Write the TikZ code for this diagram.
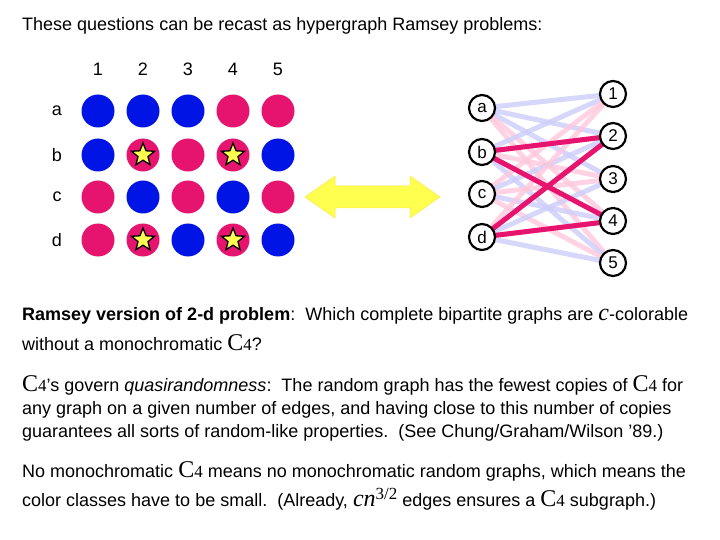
\documentclass[tikz,border=0pt]{standalone}
\usepackage{fontspec}
\setmainfont{Liberation Sans}
\newfontfamily\serifC{Liberation Serif}
\usetikzlibrary{shapes.geometric}
\definecolor{pk}{RGB}{230,20,110}
\definecolor{bl}{RGB}{0,20,230}
\definecolor{lpk}{RGB}{255,200,220}
\definecolor{lbl}{RGB}{205,205,250}
\definecolor{yel}{RGB}{255,255,80}
\newcommand{\CF}{{\serifC\fontsize{24}{24}\selectfont C}{\serifC\fontsize{17}{17}\selectfont 4}}
\begin{document}
\begin{tikzpicture}[x=1pt,y=-1pt,
  txt/.style={anchor=base west,inner sep=0,font=\fontsize{18}{21}\selectfont},
  dot/.style={circle,minimum size=33pt,inner sep=0},
  vtx/.style={circle,draw,line width=2.2pt,fill=white,minimum size=26pt,inner sep=0,font=\fontsize{17}{17}\selectfont},
  starn/.style={star,star points=5,star point ratio=2.3,fill=yel,draw,line width=1.3pt,minimum size=24pt,inner sep=0},
  lb/.style={lbl,line width=5pt},lp/.style={lpk,line width=5pt},dp/.style={pk,line width=5pt}]
\useasboundingbox (0,0) rectangle (720,540);
\node[txt] (t0) at (22,31) {These questions can be recast as hypergraph Ramsey problems:};
% grid
\foreach \c/\x in {1/98,2/143,3/188,4/233,5/278} \node[font=\fontsize{18}{18}\selectfont] (h\c) at (\x,69) {\c};
\foreach \r/\y in {a/111,b/155,c/197,d/240} \node[font=\fontsize{18}{18}\selectfont] (r\r) at (57,\y) {\r};
\foreach \r/\y/\cols in {a/111/{bl,bl,bl,pk,pk},b/155/{bl,pk,pk,pk,bl},c/197/{pk,bl,pk,bl,pk},d/240/{pk,pk,bl,pk,bl}}{
  \foreach \col [count=\i] in \cols {
    \node[dot,fill=\col] (g\r\i) at (53+45*\i,\y) {};
  }
}
\foreach \n in {gb2,gb4,gd2,gd4} \node[starn] at (\n) {};
% arrow
\draw[fill=yel,draw=yel!80!orange,line width=0.5pt] (305,197) -- (335,176) -- (335,186) -- (410,186) -- (410,176) -- (440,197) -- (410,218) -- (410,208) -- (335,208) -- (335,218) -- cycle;
% bipartite
\coordinate (La) at (482,108); \coordinate (Lb) at (482,152); \coordinate (Lc) at (482,194); \coordinate (Ld) at (482,237);
\coordinate (R1) at (613,94); \coordinate (R2) at (613,136); \coordinate (R3) at (613,179); \coordinate (R4) at (613,221); \coordinate (R5) at (613,263);
\foreach \r/\cols in {a/{lb,lb,lb,lp,lp},b/{lb,lp,lp,lp,lb},c/{lp,lb,lp,lb,lp},d/{lp,lp,lb,lp,lb}}{
  \foreach \st [count=\i] in \cols { \draw[\st,opacity=0.8] (L\r) -- (R\i); }
}
\draw[dp] (Lb) -- (R2); \draw[dp] (Lb) -- (R4); \draw[dp] (Ld) -- (R2); \draw[dp] (Ld) -- (R4);
\foreach \r in {a,b,c,d} \node[vtx] (v\r) at (L\r) {\r};
\foreach \i in {1,...,5} \node[vtx] (w\i) at (R\i) {\i};
% text
\node[txt] (t1) at (22,320) {\textbf{Ramsey version of 2-d problem}:\ \ Which complete bipartite graphs are {\serifC\itshape\fontsize{24}{24}\selectfont c}-colorable};
\node[txt] (t2) at (22,350) {without a monochromatic \CF?};
\node[txt] (t3) at (22,391) {\CF’s govern \textit{quasirandomness}:\ \ The random graph has the fewest copies of \CF\ for};
\node[txt] (t4) at (22,414) {any graph on a given number of edges, and having close to this number of copies};
\node[txt] (t5) at (22,437) {guarantees all sorts of random-like properties.\ \ (See Chung/Graham/Wilson ’89.)};
\node[txt] (t6) at (22,477) {No monochromatic \CF\ means no monochromatic random graphs, which means the};
\node[txt] (t7) at (22,506) {color classes have to be small.\ \ (Already, {\serifC\fontsize{24}{24}\selectfont\textit{cn}}{\serifC\fontsize{17}{17}\selectfont\raisebox{7pt}{3/2}} edges ensures a \CF\ subgraph.)};
\end{tikzpicture}
\end{document}
